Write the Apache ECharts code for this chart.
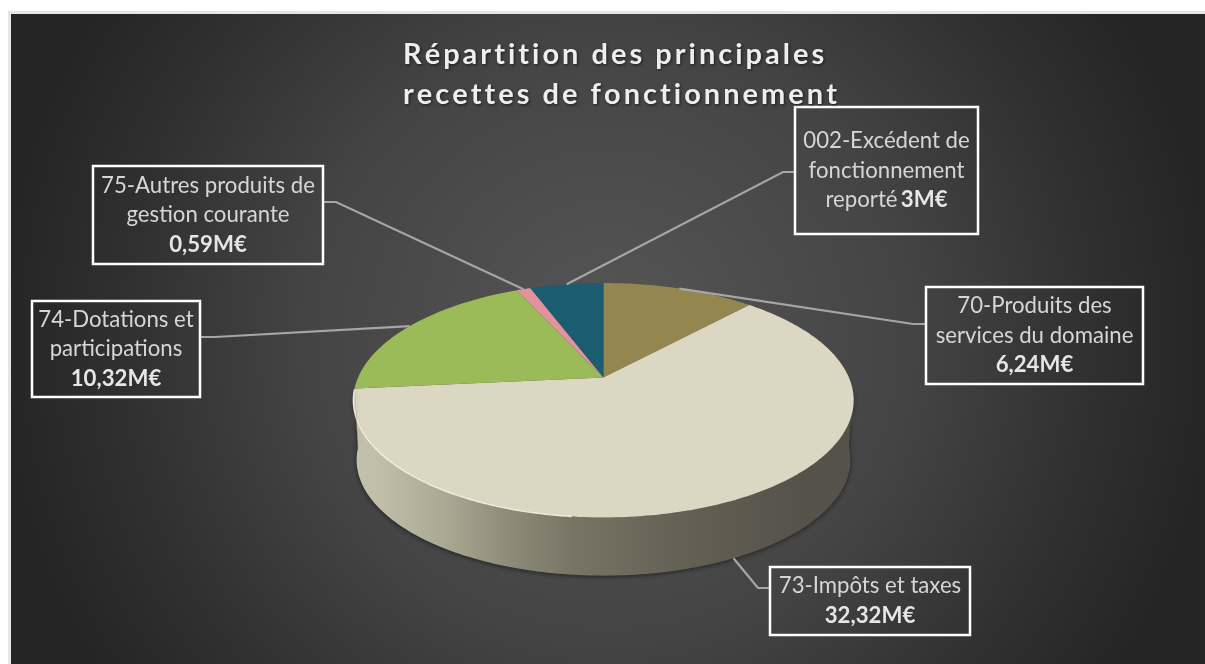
<!DOCTYPE html>
<html>
<head>
<meta charset="utf-8">
<title>Recettes de fonctionnement</title>
<script src="https://cdn.jsdelivr.net/npm/echarts@6/dist/echarts.min.js"></script>
<style>
html, body { margin: 0; padding: 0; background: #fff; }
#chart { width: 1205px; height: 664px; }
</style>
</head>
<body>
<div id="chart"></div>
<script>
// slices, clockwise from 12 o'clock
var categories = ['70-Produits des\nservices du domaine', '73-Impôts et taxes', '74-Dotations et\nparticipations', '75-Autres produits de\ngestion courante', '002-Excédent de\nfonctionnement\nreporté'];
var values = [6.24, 32.32, 10.32, 0.59, 3];
var valueLabels = ['6,24M€', '32,32M€', '10,32M€', '0,59M€', '3M€'];
var sliceColors = ['#93874f', '#dbd7c2', '#9bbb59', '#e2929c', '#1b5c70'];
var titleLines = ['Répartition des principales', 'recettes de fonctionnement'];

// label boxes [left, top, right, bottom] and the elbow of their leader line
var boxes = [[926, 287, 1143, 384], [770, 567, 970, 635], [32, 301, 200, 397], [93, 166, 323, 264], [795, 107, 978, 234]];
var elbows = [[913, 324], [758, 588], [215, 337], [336, 202], [783, 172]];
var boxSide = [0, 0, 1, 1, 0];

// perspective of the pie, the centre of the disc is not the centre of the ellipse
var cx = 603.5, cy = 377.5, rx = 245.4, ry = 112.8, tilt = -0.194;
var wallDrop = 60, wallShrink = 0.987;

var total = 0;
for (var i = 0; i < values.length; i++) {
    total += values[i];
}

function rimPoint(deg) {
    var a = deg * Math.PI / 180;
    var X = Math.sin(a), Y = -Math.cos(a);
    var d = 1 + tilt * Y;
    return [cx + rx * X / d, cy + ry * Y / d];
}

function lowerPoint(deg) {
    var p = rimPoint(deg);
    return [cx + (p[0] - cx) * wallShrink, cy + wallDrop + (p[1] - cy) * wallShrink];
}

function sliceAngles(index) {
    var sum = 0;
    for (var i = 0; i < index; i++) {
        sum += values[i];
    }
    return [sum / total * 360, (sum + values[index]) / total * 360];
}

function arc(fn, from, to) {
    var pts = [];
    var n = Math.max(2, Math.ceil(Math.abs(to - from)));
    for (var i = 0; i <= n; i++) {
        pts.push(fn(from + (to - from) * i / n));
    }
    return pts;
}

function renderSlice(params, api) {
    var angles = sliceAngles(params.dataIndex);
    var children = [];

    // side wall, only the part turned to the viewer
    var from = Math.max(angles[0], 95), to = Math.min(angles[1], 265);
    if (to > from) {
        var wall = arc(rimPoint, from, to).concat(arc(lowerPoint, to, from));
        children.push({
            type: 'polygon',
            shape: { points: wall },
            style: {
                fill: new echarts.graphic.LinearGradient(0, 0, 1, 0, [
                    { offset: 0, color: '#c4c1ad' },
                    { offset: 0.06, color: '#bfbca8' },
                    { offset: 0.19, color: '#a9a692' },
                    { offset: 0.32, color: '#8d8978' },
                    { offset: 0.45, color: '#777364' },
                    { offset: 0.64, color: '#656155' },
                    { offset: 0.9, color: '#55524a' },
                    { offset: 1, color: '#55524a' }
                ]),
                shadowBlur: 5,
                shadowColor: 'rgba(0,0,0,0.55)',
                shadowOffsetY: 1
            }
        });
    }

    var top = [[cx, cy]].concat(arc(rimPoint, angles[0], angles[1]));
    children.push({
        type: 'polygon',
        shape: { points: top },
        style: { fill: sliceColors[params.dataIndex] }
    });

    // light edge on the front left of the disc
    var hiFrom = Math.max(angles[0], 186), hiTo = Math.min(angles[1], 264);
    if (hiTo > hiFrom) {
        children.push({
            type: 'polyline',
            shape: { points: arc(rimPoint, hiFrom, hiTo) },
            style: { fill: 'none', stroke: '#f6f4e6', lineWidth: 1.4, opacity: 0.9 }
        });
    }
    return { type: 'group', children: children };
}

function leaderStart(index) {
    var angles = sliceAngles(index);
    var mid = (angles[0] + angles[1]) / 2;
    // the slice seen only by its wall gets the line at the foot of the wall
    var isFront = mid > 95 && mid < 265;
    return isFront ? lowerPoint(mid) : rimPoint(mid);
}

// title letters are spread out, one rich token per character
function spreadLine(line) {
    return line.split('').map(function (c) { return '{t|' + c + '}'; }).join('');
}

var graphics = [
    { type: 'rect', z: -10, shape: { x: 8, y: 11, width: 1197, height: 653 }, style: { fill: '#e6e6e6' } },
    {
        type: 'rect',
        z: -9,
        shape: { x: 11, y: 14, width: 1194, height: 650 },
        style: {
            fill: new echarts.graphic.RadialGradient(0.5, 0.5, 0.93, [
                { offset: 0, color: '#565656' },
                { offset: 0.5, color: '#444444' },
                { offset: 0.8, color: '#303030' },
                { offset: 1, color: '#252525' }
            ])
        }
    },
    {
        type: 'text',
        z: 20,
        x: 403,
        y: 35,
        style: {
            text: titleLines.map(spreadLine).join('\n'),
            rich: {
                t: {
                    font: 'bold 29px Lato',
                    fill: '#eeeeee',
                    color: '#eeeeee',
                    lineHeight: 40,
                    padding: [0, 3, 0, 0],
                    textShadowColor: 'rgba(0,0,0,0.6)',
                    textShadowBlur: 3,
                    textShadowOffsetX: 1,
                    textShadowOffsetY: 1
                }
            }
        }
    }
];

for (var j = 0; j < categories.length; j++) {
    var box = boxes[j];
    var elbow = elbows[j];
    var edgeX = boxSide[j] ? box[2] : box[0];
    graphics.push({
        type: 'polyline',
        z: 18,
        shape: { points: [leaderStart(j), elbow, [edgeX, elbow[1]]] },
        style: { fill: 'none', stroke: '#a6a6a6', lineWidth: 2.2 }
    });
    graphics.push({
        type: 'rect',
        z: 19,
        shape: { x: box[0], y: box[1], width: box[2] - box[0], height: box[3] - box[1] },
        style: { fill: 'none', stroke: '#ffffff', lineWidth: 2.5 }
    });
    // the value shares the last line when the name ends with "reporté"
    var sep = categories[j].indexOf('reporté') >= 0 ? ' ' : '\n';
    var nameLines = categories[j].split('\n');
    var richText = nameLines.map(function (l) { return '{n|' + l + '}'; }).join('\n') + sep + '{b|' + valueLabels[j] + '}';
    graphics.push({
        type: 'text',
        z: 20,
        x: (box[0] + box[2]) / 2,
        y: (box[1] + box[3]) / 2,
        style: {
            text: richText,
            align: 'center',
            verticalAlign: 'middle',
            rich: {
                n: { font: '22.2px Lato', fill: '#d6d6d6', color: '#d6d6d6', lineHeight: 29.5 },
                b: { font: 'bold 22.2px Lato', fill: '#e6e6e6', color: '#e6e6e6', lineHeight: 29.5 }
            }
        }
    });
}

var myChart = echarts.init(document.getElementById('chart'));
var option = {
    animation: false,
    backgroundColor: '#ffffff',
    graphic: graphics,
    series: [{
        type: 'custom',
        coordinateSystem: 'none',
        silent: true,
        renderItem: renderSlice,
        data: values
    }]
};
myChart.setOption(option);
</script>
</body>
</html>
